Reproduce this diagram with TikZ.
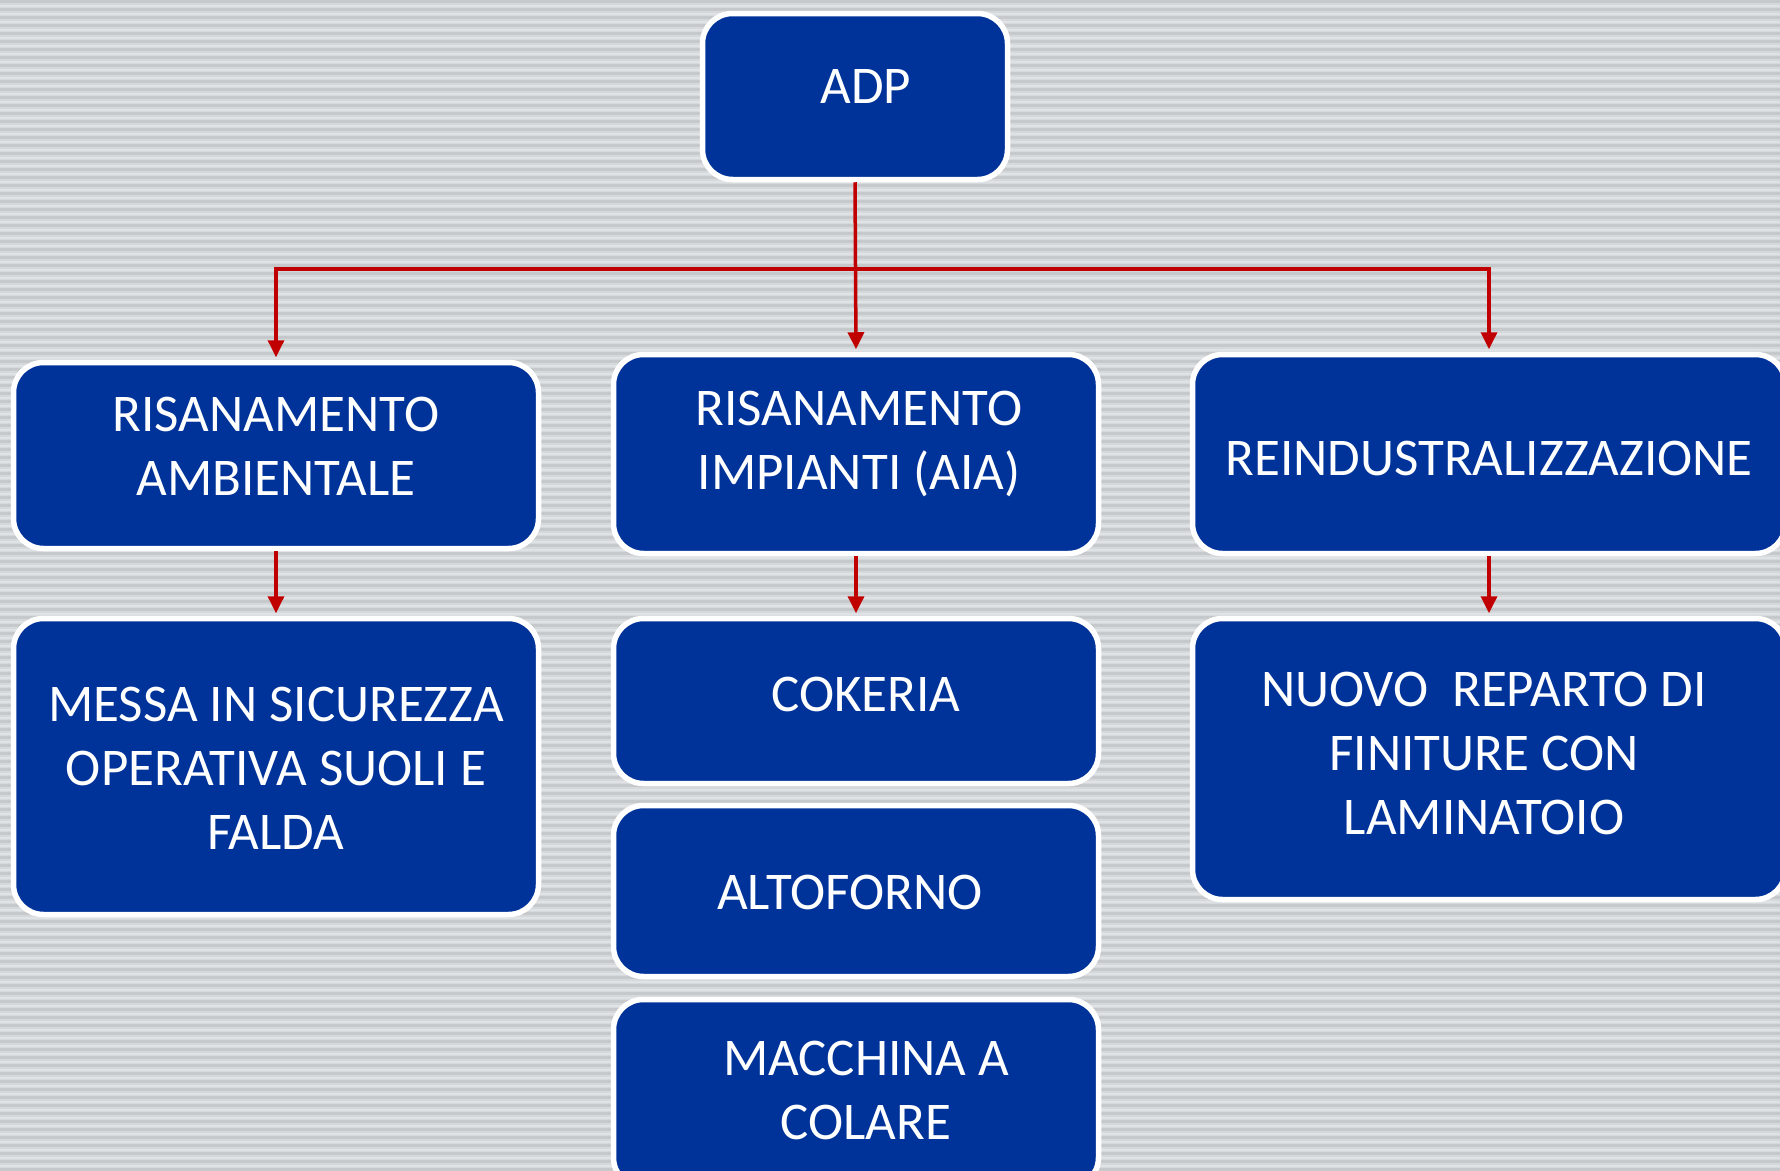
\documentclass[tikz,border=0pt]{standalone}
\usepackage{fontspec}
\setmainfont{Carlito}
\usetikzlibrary{arrows.meta}
\definecolor{bgbase}{HTML}{D6D9DC}
\definecolor{bgdark}{HTML}{C5C9CC}
\definecolor{bglight}{HTML}{E0E3E5}
\definecolor{boxblue}{HTML}{003399}
\definecolor{arrowred}{HTML}{C00000}
\tikzset{
  box/.style={rectangle, rounded corners=30pt, draw=white, line width=5.5pt,
    fill=boxblue, inner sep=0pt},
  txt/.style={text=white, align=center,
    font=\fontsize{53}{64}\selectfont, inner sep=0pt},
  conn/.style={draw=arrowred, line width=3.5pt, shorten >=2.5pt,
    -{Triangle[length=17pt,width=16pt]}},
}
\begin{document}
\begin{tikzpicture}[x=1pt,y=-1pt]
\useasboundingbox (0,0) rectangle (1780,1170);
\clip (0,0) rectangle (1780,1170);
\fill[bgbase] (0,0) rectangle (1780,1170);
\foreach \i in {0,...,147} {
  \fill[bgdark] (0,\i*8) rectangle (1780,\i*8+2.5);
  \fill[bglight] (0,\i*8+4.5) rectangle (1780,\i*8+6.5);
}
\node[box, minimum width=305pt, minimum height=166pt] (adp) at (855,96.5) {};
\node[box, minimum width=525pt, minimum height=186pt] (ra) at (276,455.5) {};
\node[box, minimum width=485pt, minimum height=199pt] (ri) at (856,454) {};
\node[box, minimum width=593pt, minimum height=199pt] (re) at (1489,454) {};
\node[box, minimum width=525pt, minimum height=296pt] (ms) at (276,766.5) {};
\node[box, minimum width=485pt, minimum height=165pt] (ck) at (856,701) {};
\node[box, minimum width=485pt, minimum height=171pt] (af) at (856,891) {};
\node[box, minimum width=485pt, minimum height=188pt] (mc) at (856,1093.5) {};
\node[box, minimum width=593pt, minimum height=281pt] (nr) at (1489,759) {};
\node[txt, xshift=11pt, yshift=10pt] (tadp) at (adp.center) {ADP};
\node[txt, yshift=9pt] (tra) at (ra.center) {RISANAMENTO\\AMBIENTALE};
\node[txt, xshift=3pt, yshift=10pt] (tri) at (ri.center) {RISANAMENTO\\IMPIANTI (AIA)};
\node[txt, yshift=-4pt] (tre) at (re.center) {REINDUSTRALIZZAZIONE};
\node[txt, yshift=-2pt] (tms) at (ms.center) {MESSA IN SICUREZZA\\OPERATIVA SUOLI E\\FALDA};
\node[txt, xshift=10pt, yshift=7pt] (tck) at (ck.center) {COKERIA};
\node[txt, xshift=-6pt, yshift=-1pt] (taf) at (af.center) {ALTOFORNO};
\node[txt, xshift=10pt, yshift=3pt] (tmc) at (mc.center) {MACCHINA A\\COLARE};
\node[txt, xshift=-5pt, yshift=6pt] (tnr) at (nr.center) {NUOVO~ REPARTO DI\\FINITURE CON\\LAMINATOIO};
\coordinate (j) at (856,269);
\draw[conn] (adp.south) -- (ri.north);
\draw[conn] (j) -| (ra.north);
\draw[conn] (j) -| (re.north);
\draw[conn] (ra.south) -- (ms.north);
\draw[conn] (ri.south) -- (ck.north);
\draw[conn] (re.south) -- (nr.north);
\end{tikzpicture}
\end{document}
